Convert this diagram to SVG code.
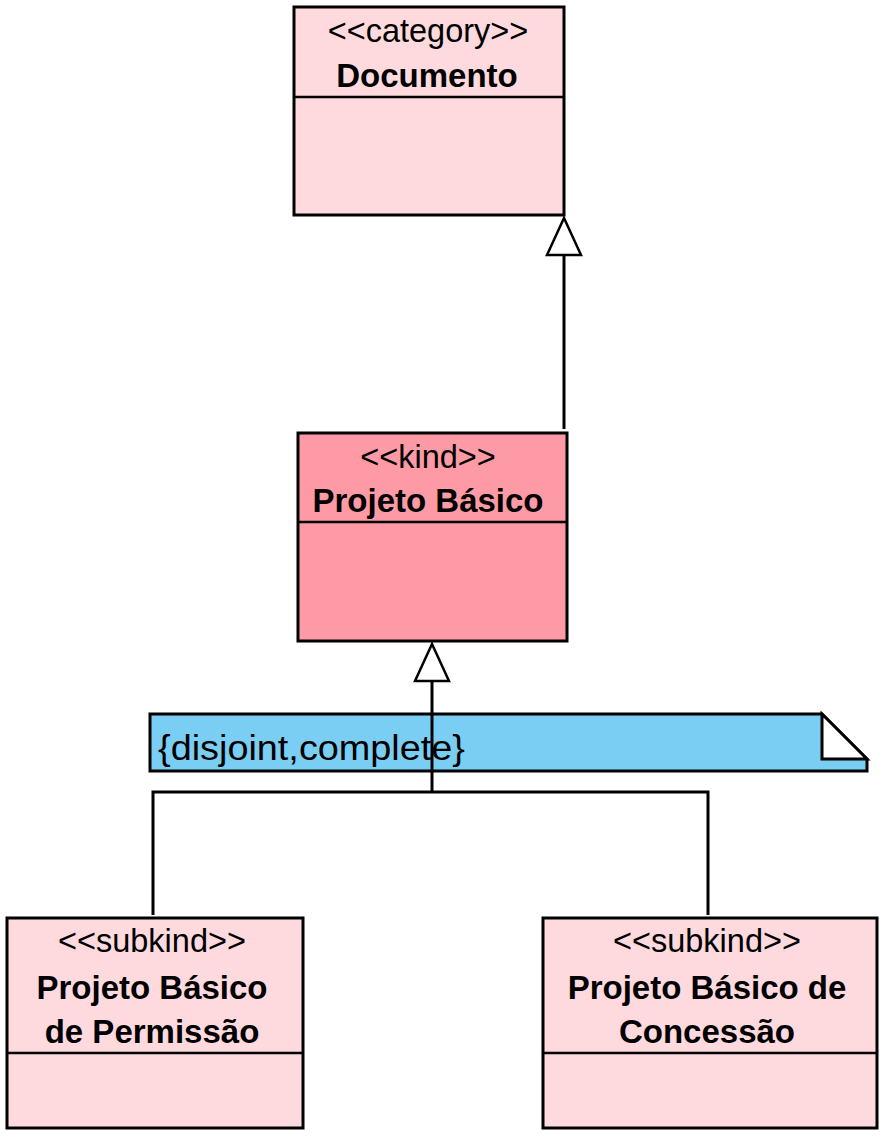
<svg xmlns="http://www.w3.org/2000/svg" width="888" height="1140" viewBox="0 0 888 1140">
<style>
.box{stroke:#000;stroke-width:3}
.light{fill:#FEDADE}
.kind{fill:#FE9AA5}
.div{stroke:#000;stroke-width:2.5}
.st{font-family:"Liberation Sans",Arial,sans-serif;font-size:32.5px;text-anchor:middle;fill:#000}
.nm{font-family:"Liberation Sans",Arial,sans-serif;font-size:33px;font-weight:bold;text-anchor:middle;fill:#000}
.line{stroke:#000;stroke-width:3;fill:none}
.head{stroke:#000;stroke-width:2.5;fill:#fff}
</style>
<rect width="888" height="1140" fill="#fff"/>
<g id="note">
<path d="M150,714 L822,714 L867,759 L867,771 L150,771 Z" fill="#7BCEF3" stroke="#000" stroke-width="3"/>
<path d="M822,714 L822,759 L867,759 Z" fill="#fff" stroke="#000" stroke-width="3" stroke-linejoin="miter"/>
<text x="158" y="760" font-family="Liberation Sans,Arial,sans-serif" font-size="35" textLength="307" lengthAdjust="spacingAndGlyphs" fill="#000">{disjoint,complete}</text>
</g>
<g id="connectors">
<line class="line" x1="564" y1="254" x2="564" y2="429"/>
<polygon class="head" points="564,218 547,255 581,255"/>
<line class="line" x1="432" y1="680" x2="432" y2="792"/>
<polygon class="head" points="432,644 415,681 449,681"/>
<polyline class="line" points="153,915 153,792 708,792 708,915"/>
</g>
<g id="documento">
<rect class="box light" x="294" y="7" width="270" height="208"/>
<line class="div" x1="294" y1="97" x2="564" y2="97"/>
<text class="st" x="428" y="42">&lt;&lt;category&gt;&gt;</text>
<text class="nm" x="427" y="87">Documento</text>
</g>
<g id="projeto-basico">
<rect class="box kind" x="298" y="433" width="269" height="208"/>
<line class="div" x1="298" y1="522" x2="567" y2="522"/>
<text class="st" x="428" y="468">&lt;&lt;kind&gt;&gt;</text>
<text class="nm" x="428" y="512">Projeto Básico</text>
</g>
<g id="permissao">
<rect class="box light" x="7" y="918" width="296" height="210"/>
<line class="div" x1="7" y1="1053" x2="303" y2="1053"/>
<text class="st" x="152" y="952">&lt;&lt;subkind&gt;&gt;</text>
<text class="nm" x="152" y="999">Projeto Básico</text>
<text class="nm" x="152" y="1043">de Permissão</text>
</g>
<g id="concessao">
<rect class="box light" x="543" y="918" width="334" height="210"/>
<line class="div" x1="543" y1="1053" x2="877" y2="1053"/>
<text class="st" x="707" y="952">&lt;&lt;subkind&gt;&gt;</text>
<text class="nm" x="707" y="999">Projeto Básico de</text>
<text class="nm" x="707" y="1043">Concessão</text>
</g>
</svg>
